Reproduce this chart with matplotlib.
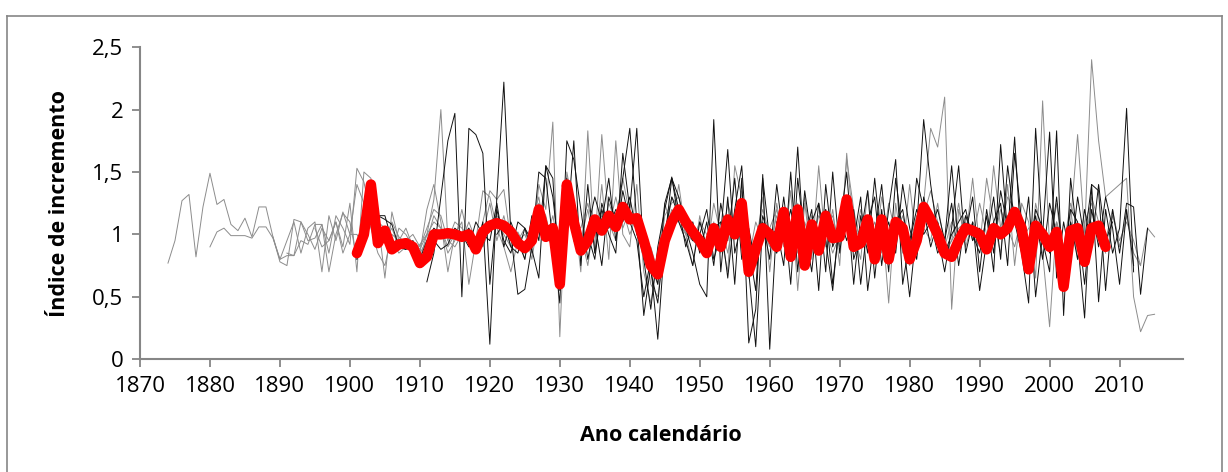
import numpy as np
import matplotlib.pyplot as plt
from matplotlib.lines import Line2D

# mean index (red line), 1901-2008
mean_start = 1901
mean_idx = [0.85, 1.00, 1.40, 0.93, 1.03, 0.88, 0.92, 0.93, 0.90, 0.77,
            0.82, 1.00, 1.00, 1.01, 1.00, 0.98, 1.00, 0.88, 1.02, 1.07,
            1.09, 1.07, 1.02, 0.93, 0.89, 0.95, 1.20, 0.98, 1.05, 0.60,
            1.40, 1.10, 0.87, 0.95, 1.12, 1.03, 1.15, 1.06, 1.22, 1.12,
            1.13, 0.95, 0.75, 0.68, 0.95, 1.10, 1.20, 1.10, 1.02, 0.95,
            0.85, 1.05, 0.90, 1.12, 1.00, 1.25, 0.70, 0.88, 1.05, 1.00,
            0.90, 1.18, 0.82, 1.20, 0.75, 1.08, 0.87, 1.15, 0.97, 0.98,
            1.28, 0.90, 0.93, 1.12, 0.80, 1.12, 0.80, 1.10, 1.05, 0.80,
            0.95, 1.22, 1.12, 1.00, 0.85, 0.82, 0.95, 1.05, 1.03, 1.00,
            0.88, 1.05, 1.00, 1.05, 1.18, 1.05, 0.72, 1.07, 1.00, 0.90,
            1.02, 0.58, 1.03, 1.05, 0.78, 1.05, 1.07, 0.90]

# individual trees, dark lines
b1_start = 1901
b1 = [0.80, 1.10, 1.35, 1.15, 1.15, 0.95, 0.90, 0.88, 0.92, 0.80,
      0.95, 1.05, 1.00, 1.02, 0.98, 0.95, 1.05, 0.85, 1.10, 0.12,
      1.30, 2.22, 1.00, 0.52, 0.56, 0.90, 1.50, 1.45, 0.95, 0.45,
      1.75, 1.60, 1.20, 0.80, 1.10, 0.75, 1.30, 1.10, 1.45, 1.85,
      1.10, 0.35, 0.75, 0.16, 0.95, 1.45, 1.30, 1.05, 0.85, 0.60,
      0.50, 1.92, 0.70, 1.30, 0.60, 1.45, 0.13, 0.40, 1.48, 0.08,
      1.10, 1.20, 0.60, 1.45, 0.95, 1.20, 0.55, 1.40, 0.90, 1.05,
      1.50, 0.80, 1.00, 1.35, 0.65, 1.20, 0.70, 1.45, 1.00, 0.50,
      1.05, 1.92, 1.40, 1.00, 0.70, 1.05, 1.55, 0.85, 1.10, 0.55,
      0.95, 1.30, 0.80, 1.55, 1.10, 0.85, 0.45, 1.85, 0.95, 0.70,
      1.83, 0.35, 1.45, 0.95, 0.33, 1.40, 0.46, 1.20, 0.85, 1.05,
      2.01, 0.70]
b2_start = 1911
b2 = [0.62, 0.85, 1.30, 1.75, 1.97, 0.50, 1.85, 1.80, 1.65, 0.60,
      1.20, 0.95, 0.85, 1.10, 1.05, 0.88, 0.65, 1.55, 1.45, 0.55,
      1.00, 1.75, 0.75, 1.40, 0.85, 1.20, 1.00, 0.85, 1.65, 1.20,
      1.85, 0.80, 0.40, 0.90, 1.20, 1.46, 1.10, 0.95, 0.75, 1.10,
      0.90, 1.05, 1.10, 0.65, 1.20, 1.55, 0.70, 0.10, 1.10, 0.80,
      1.40, 0.95, 1.20, 0.90, 1.05, 0.70, 1.25, 0.95, 0.55, 1.15,
      0.95, 1.20, 0.60, 1.10, 1.30, 0.75, 1.20, 1.60, 0.60, 0.95,
      1.20, 1.00, 1.10, 0.85, 0.95, 1.25, 0.75, 1.15, 1.00, 0.85,
      1.15, 0.70, 1.72, 1.00, 1.78, 0.85, 1.30, 0.50, 1.00, 1.82,
      0.65, 1.10, 0.80, 1.30, 0.95, 1.40, 1.35, 0.55, 1.20, 0.85,
      1.25, 1.22, 0.52, 1.05]
b3_start = 1904
b3 = [1.15, 1.12, 1.08, 0.90, 0.88, 0.95, 0.75,
      0.90, 0.95, 0.88, 0.92, 1.05, 1.00, 0.90, 1.10, 1.00, 0.95,
      1.25, 0.90, 1.10, 0.95, 0.80, 1.15, 0.95, 1.55, 1.30, 0.80,
      1.20, 1.05, 0.90, 1.05, 1.30, 1.10, 1.45, 0.95, 1.35, 1.10,
      0.95, 0.50, 0.80, 0.60, 1.25, 1.45, 1.20, 0.90, 1.10, 0.85,
      1.10, 0.75, 1.25, 0.95, 1.45, 0.80, 1.05, 0.75, 1.15, 0.95,
      0.85, 1.30, 0.85, 1.70, 0.80, 1.10, 1.25, 0.70, 1.50, 0.85,
      1.30, 0.60, 1.15, 0.85, 1.45, 0.90, 1.10, 0.85, 1.40, 1.05,
      0.80, 1.30, 1.05, 1.20, 0.95, 1.55, 0.90, 1.00, 1.30, 0.70,
      1.20, 0.85, 1.35, 1.05, 1.20, 0.95, 0.85, 1.15, 0.80, 1.25,
      1.00, 0.70, 1.10, 0.80, 1.20, 0.90, 1.40, 0.95, 1.10]
b4_start = 1921
b4 = [1.00, 1.10, 0.90, 0.85, 1.05, 0.95, 1.20, 1.10, 0.85, 0.70,
      1.45, 0.95, 0.85, 1.00, 0.80, 1.25, 1.05, 1.20, 1.10, 1.30,
      1.00, 0.85, 0.70, 0.45, 1.00, 1.30, 1.15, 1.05, 0.95, 1.00,
      1.20, 0.80, 1.00, 1.68, 0.85, 1.10, 0.90, 0.55, 1.45, 0.95,
      1.05, 0.75, 1.50, 0.70, 1.35, 0.95, 1.00, 1.20, 0.60, 1.10,
      1.20, 0.95, 1.30, 0.55, 1.00, 1.40, 0.80, 1.10, 1.20, 0.85,
      1.45, 1.20, 0.90, 1.10, 0.85, 1.00, 1.10, 1.20, 0.95, 1.05,
      0.85, 1.10, 1.25, 0.75, 1.65, 1.10, 0.80, 1.20, 1.05, 0.85,
      1.30, 0.80, 1.20, 1.10, 0.60, 1.20, 0.90, 1.30, 1.05, 0.60,
      1.20, 0.75]

# individual trees, grey lines
g1_start = 1874
g1 = [0.77, 0.95, 1.27, 1.32, 0.82, 1.22, 1.49, 1.24, 1.28, 1.08,
      1.03, 1.13, 0.98, 1.22, 1.22, 0.98, 0.78, 0.75, 1.12, 1.10,
      0.95, 0.97, 1.08, 0.85, 1.15, 1.05, 0.92, 1.53, 1.42, 1.15,
      1.05, 0.95, 1.10, 0.98, 0.93, 0.88, 0.80, 1.00, 0.95]
g2_start = 1880
g2 = [0.90, 1.02, 1.05, 0.99, 0.99, 0.99, 0.97, 1.06, 1.06, 0.97,
      0.80, 0.83, 0.83, 0.95, 0.92, 1.08, 1.08, 0.70, 1.00, 1.17,
      1.10, 0.80, 1.00, 1.15, 1.12, 0.65, 1.18, 0.95, 0.90, 0.85,
      0.92, 1.00, 1.28, 2.00, 0.95, 1.10, 1.05, 0.98, 0.88, 1.10,
      1.35, 1.28, 1.36, 0.95, 1.02, 0.90]
g3_start = 1889
g3 = [0.98, 0.80,
      0.95, 1.10, 0.85, 1.05, 1.10, 0.70, 1.15, 0.95, 1.18, 1.00,
      1.40, 1.25, 1.05, 0.85, 0.75, 1.00, 0.95, 1.05, 0.90, 0.85,
      1.20, 1.40, 1.10, 0.70, 1.00, 1.10, 0.60, 0.95, 1.35, 1.30,
      1.05, 0.90, 0.70, 0.95, 1.00, 0.85, 1.40, 1.20, 1.90, 0.18,
      1.50, 1.20, 0.70, 1.83, 0.85, 1.40, 0.80, 1.75, 1.00, 0.90,
      1.40, 0.70, 0.45, 0.80, 1.25, 1.05, 1.40, 1.00, 0.75, 1.15,
      0.85, 1.25, 1.00, 0.70, 1.55, 1.30, 0.65, 0.90, 1.30, 0.70,
      1.25, 0.90, 1.35, 0.55, 1.25, 0.80, 1.55, 0.90, 1.20, 0.75,
      1.65, 1.00, 0.80, 1.35, 0.90, 1.15, 0.45, 1.25, 0.85, 1.40,
      0.90, 1.25, 1.85, 1.70, 2.10, 0.40, 1.20, 0.95, 1.45, 0.90,
      1.45, 1.10, 0.85, 1.40, 0.75, 1.25, 1.10, 0.65, 2.07, 0.90,
      1.25, 0.80, 1.10, 1.80, 1.00, 2.40, 1.75, 1.30, 1.35, 1.40,
      1.45, 0.50, 0.22, 0.35, 0.36]
g4_start = 1891
g4 = [0.85, 0.83, 1.10, 1.00, 0.88, 1.05, 0.95, 1.10, 0.90, 1.25,
      0.70, 1.50, 1.45, 1.10, 1.05, 0.85, 1.05, 1.00, 0.90, 0.85,
      0.95, 1.15, 1.05, 0.85, 0.95, 1.20, 0.95, 0.85, 1.00, 1.25,
      0.95, 1.15, 0.90, 0.95, 0.85, 1.10, 1.30, 0.95, 1.15, 0.85,
      1.25, 1.10, 0.95, 1.20, 0.90, 1.80, 1.10, 0.95, 1.45, 1.15,
      1.05, 0.80, 0.90, 0.70, 1.15, 1.25, 1.30, 1.10, 0.95, 1.10,
      1.00, 0.90, 1.10, 0.85, 1.20, 1.00, 0.75, 0.95, 1.20, 1.00,
      0.85, 1.10, 1.00, 1.25, 0.85, 1.15, 0.95, 1.05, 1.15, 0.90,
      1.60, 1.20, 0.90, 1.05, 0.85, 1.30, 1.00, 1.10, 0.95, 0.75,
      1.00, 1.15, 1.35, 1.10, 0.85, 0.95, 1.25, 0.90, 1.10, 1.00,
      0.90, 1.55, 1.05, 1.30, 1.20, 0.95, 1.05, 1.10, 0.85, 0.26,
      1.10, 0.90, 1.20, 0.80, 1.10, 1.25, 1.00, 0.90, 1.15, 0.95,
      1.10, 0.95, 0.75, 1.05, 0.98]
g5_start = 1895
g5 = [1.05, 0.90, 0.95, 1.10, 0.85, 1.00,
      1.00, 0.90, 1.20, 0.95, 0.95, 1.05, 0.90, 0.95, 1.00, 0.90,
      1.05, 1.20, 1.15, 0.95, 0.90, 1.00, 1.05, 0.90, 0.95, 1.10,
      1.15, 1.05, 0.95, 1.00, 0.80, 1.10, 1.25, 1.15, 0.90, 0.95,
      1.30, 1.15, 1.00, 0.75, 1.15, 1.00, 1.25, 1.10, 1.20, 1.00,
      1.15, 1.00, 0.60, 0.50, 0.95, 1.30, 1.20, 1.00, 1.05, 0.95,
      0.90, 1.10, 0.85, 1.25, 1.05, 1.35, 0.80, 1.10, 0.95, 1.05,
      1.20, 0.95, 1.10, 0.90, 1.30, 0.85, 1.05, 1.20, 0.95, 1.10,
      1.10, 0.90, 1.20, 0.95, 1.10, 0.85, 1.25, 1.00, 1.15, 0.90,
      1.15, 1.05, 0.95, 1.25, 0.90, 1.10, 1.00, 1.15, 0.95, 1.25,
      1.00, 0.95, 1.20, 1.05, 0.90, 1.15, 0.70, 1.25, 1.00, 0.95,
      1.10, 0.90, 1.25, 1.05, 0.85, 1.30, 1.10, 0.95, 1.20, 0.90,
      1.15, 0.85, 0.75]
g6_start = 1905
g6 = [1.00, 0.95, 0.85, 0.90, 0.95, 0.88,
      1.00, 1.10, 1.05, 0.90, 1.00, 0.95, 1.10, 0.95, 0.90, 1.05,
      1.10, 1.00, 0.90, 0.95, 1.05, 0.80, 1.15, 1.05, 1.00, 0.60,
      1.30, 1.10, 1.05, 1.25, 1.00, 1.15, 1.05, 1.30, 1.05, 1.20,
      1.05, 0.90, 0.75, 0.60, 1.00, 1.20, 1.10, 1.00, 0.95, 0.90,
      0.95, 1.05, 0.95, 1.15, 1.00, 1.20, 0.75, 0.85, 1.05, 0.90,
      1.15, 1.00, 1.20, 0.85, 1.10, 0.90, 1.15, 1.05, 0.85, 1.00,
      1.25, 0.95, 1.05, 1.10, 0.85, 1.15, 0.90, 1.05, 1.10, 0.85,
      1.00, 1.20, 1.10, 0.95, 0.85, 0.95, 1.05, 1.10, 1.00, 0.90,
      0.95, 1.10, 1.00, 1.15, 1.20, 1.00, 0.80, 1.10, 1.05, 0.95,
      1.05, 0.60, 1.10, 0.95, 0.80, 1.10, 1.00, 0.85]

grey_series = [(g1_start, g1), (g2_start, g2), (g3_start, g3),
               (g4_start, g4), (g5_start, g5), (g6_start, g6)]
dark_series = [(b1_start, b1), (b2_start, b2), (b3_start, b3), (b4_start, b4)]

yticks = [0, 0.5, 1, 1.5, 2, 2.5]
ytick_labels = ["0", "0,5", "1", "1,5", "2", "2,5"]
xticks = list(range(1870, 2011, 10))

plt.rcParams['font.family'] = ['Open Sans', 'DejaVu Sans']

fig = plt.figure(figsize=(12.28, 4.72), dpi=100)
ax = fig.add_axes([0.114, 0.239, 0.849, 0.661])

for start, vals in grey_series:
    yrs = start + np.arange(len(vals))
    ax.plot(yrs, vals, color="#8c8c8c", lw=0.7)
for start, vals in dark_series:
    yrs = start + np.arange(len(vals))
    ax.plot(yrs, vals, color="#111111", lw=0.7)

yrs = mean_start + np.arange(len(mean_idx))
ax.plot(yrs, mean_idx, color="#ff0000", lw=7.5,
        solid_joinstyle="round", solid_capstyle="round")

ax.set_xlim(1870, 2019)
ax.set_ylim(0, 2.5)
ax.set_xticks(xticks)
ax.set_xticklabels([str(x) for x in xticks])
ax.set_yticks(yticks)
ax.set_yticklabels(ytick_labels)
ax.tick_params(direction="out", length=6, width=1.3, color="#868686",
               labelsize=16, labelcolor="black", pad=6)

for s in ["top", "right"]:
    ax.spines[s].set_visible(False)
for s in ["left", "bottom"]:
    ax.spines[s].set_color("#868686")
    ax.spines[s].set_linewidth(1.5)

ax.set_xlabel("Ano calendário", fontsize=15.5, fontweight="bold", labelpad=20)
ax.set_ylabel("Índice de incremento", fontsize=15.5, fontweight="bold", labelpad=16)

# chart area border
bc = "#868686"
fig.add_artist(Line2D([0.006, 0.995], [0.966, 0.966], color=bc, lw=1.2))
fig.add_artist(Line2D([0.006, 0.006], [0.0, 0.966], color=bc, lw=1.2))
fig.add_artist(Line2D([0.995, 0.995], [0.0, 0.966], color=bc, lw=1.2))

fig.savefig("out.png", dpi=100)
